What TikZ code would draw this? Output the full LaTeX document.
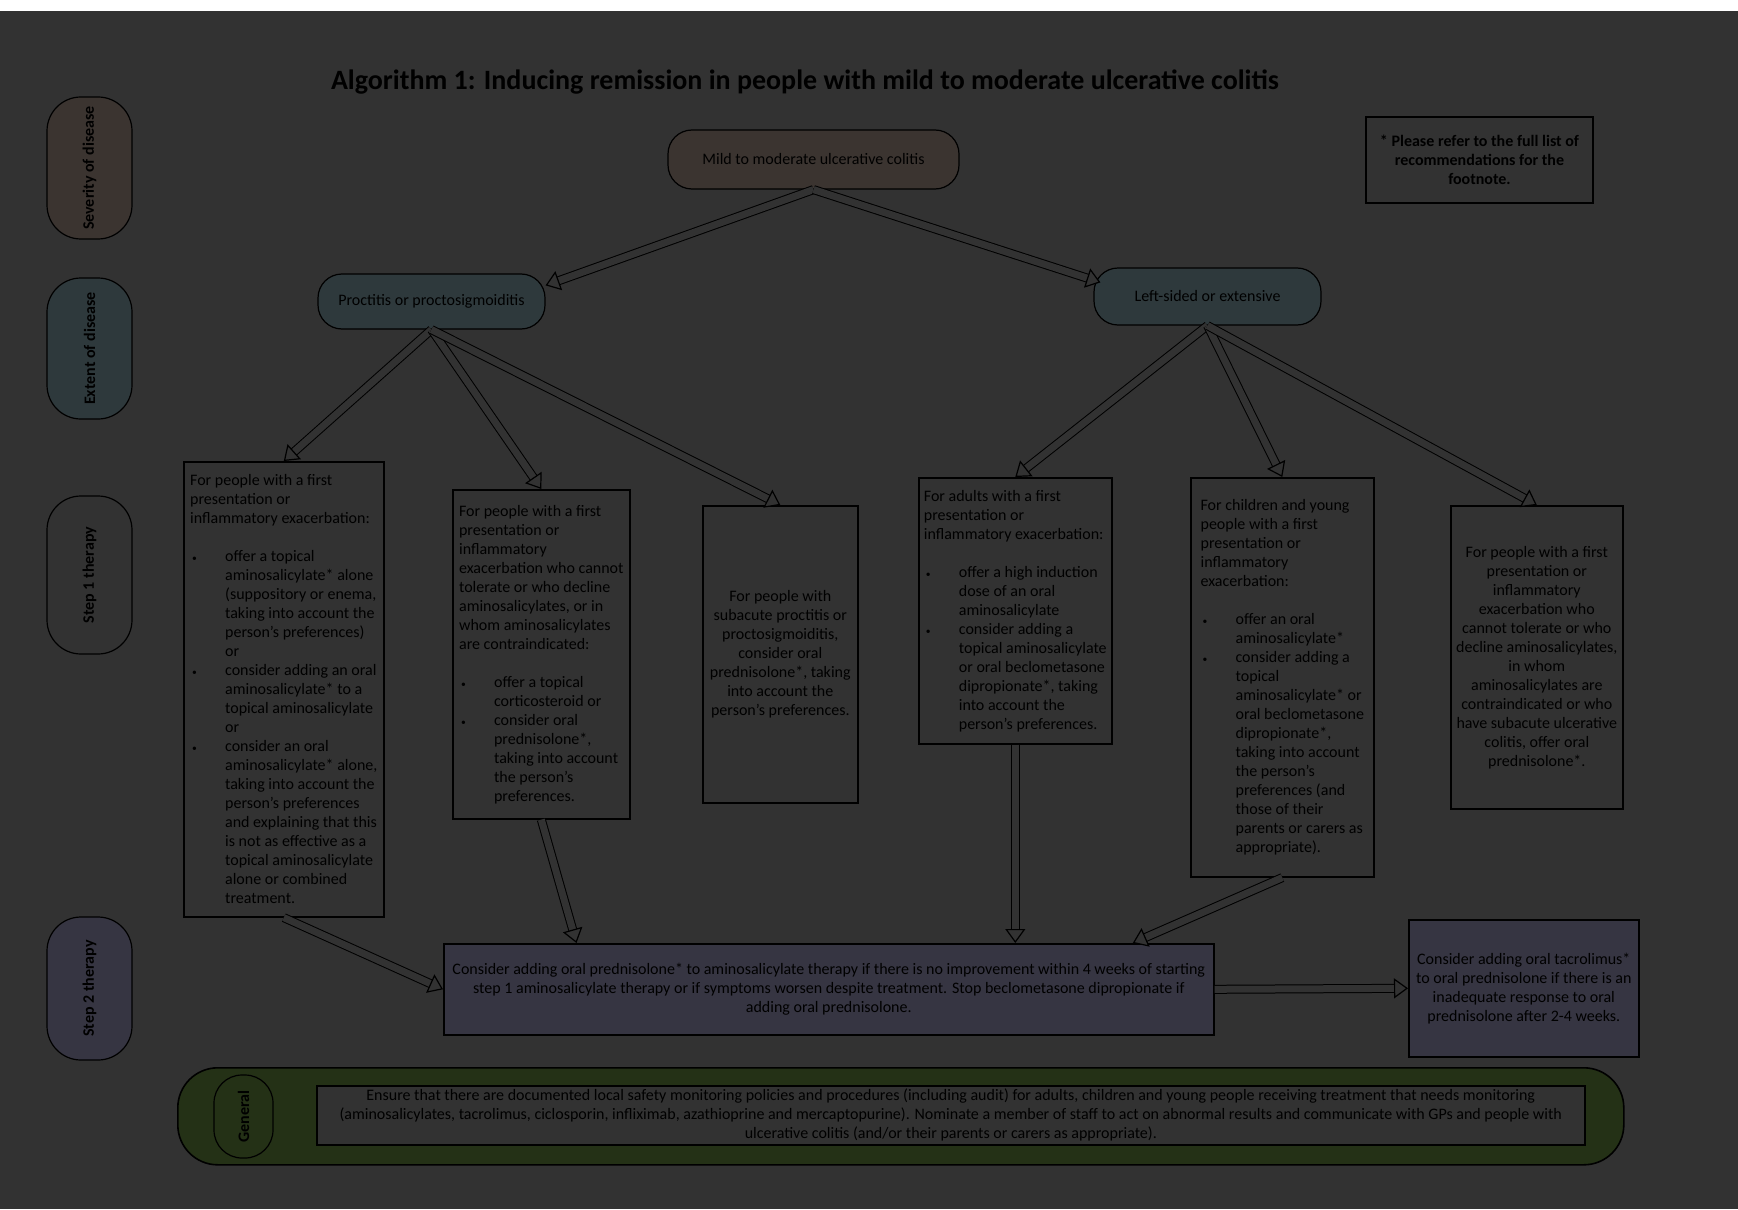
\documentclass[tikz,border=0pt]{standalone}
\usepackage{fontspec}
\setmainfont{Carlito}
\usetikzlibrary{arrows.meta, calc}
\definecolor{my_bg}{HTML}{323232}
\definecolor{my_brown}{HTML}{3B3430}
\definecolor{my_teal}{HTML}{2E393C}
\definecolor{my_purple}{HTML}{363542}
\definecolor{my_green}{HTML}{243116}
\newcommand{\bulmark}{\makebox[17.5pt][l]{\hspace{1pt}\scalebox{0.6}{\textbullet}}}
\newcommand{\hangind}{\hspace*{17.5pt}}

\begin{document}
\begin{tikzpicture}[
    x=0.5pt, y=-0.5pt,
    font=\fontsize{8}{9.5}\selectfont,
    pill/.style={draw, line width=0.6pt, rounded corners=12pt, inner sep=1pt},
    sidelabel/.style={draw, line width=0.6pt, rounded corners=17pt, rotate=90,
        minimum height=42.5pt, inner sep=1pt, font=\bfseries\fontsize{8}{9.5}\selectfont},
    stepbox/.style={draw, line width=0.8pt, anchor=north west, align=left, inner sep=1.5pt},
    midbox/.style={draw, line width=0.8pt, anchor=north west, align=center, inner sep=1.5pt},
    flow/.style={draw=black, line width=0.5pt, double=my_bg, double distance=3.5pt,
        -{Triangle[open, fill=my_bg, line width=0.6pt, length=7pt, width=10pt]}}
]

% ---------------------------------------------------------------
%  Seite, Titel, Fussnote
% ---------------------------------------------------------------
\useasboundingbox (0, 0) rectangle (1738, 1209);
\fill[my_bg] (0, 0) rectangle (1738, 1209);
\fill[white] (0, 0) rectangle (1738, 11);

\node[font=\bfseries\fontsize{14}{16}\selectfont] (title) at (805, 82)
    {Algorithm 1: Inducing remission in people with mild to moderate ulcerative colitis};
\node[draw, line width=0.8pt, align=center, minimum width=113.5pt, minimum height=43pt,
    font=\bfseries\fontsize{8}{9.5}\selectfont] (foot) at (1479.5, 160)
    {* Please refer to the full list of\\ recommendations for the\\ footnote.};

% Zeilenbeschriftungen links
\node[sidelabel, fill=my_brown, minimum width=71pt] (sev) at (89.5, 168) {Severity of disease};
\node[sidelabel, fill=my_teal, minimum width=70.5pt] (ext) at (89.5, 348.5) {Extent of disease};
\node[sidelabel, minimum width=79pt] (st1) at (89.5, 575) {Step 1 therapy};
\node[sidelabel, fill=my_purple, minimum width=71.5pt] (st2) at (89.5, 988.5) {Step 2 therapy};

% Schweregrad und Ausdehnung
\node[pill, fill=my_brown, minimum width=145.5pt, minimum height=29.5pt] (mild) at (813.5, 159.5)
    {Mild to moderate ulcerative colitis};
\node[pill, fill=my_teal, minimum width=113.5pt, minimum height=27.5pt] (procto) at (431.5, 301.5)
    {Proctitis or proctosigmoiditis};
\node[pill, fill=my_teal, minimum width=113.5pt, minimum height=28.5pt] (leftext) at (1207.5, 296.5)
    {Left-sided or extensive};

% ---------------------------------------------------------------
%  Stufe 1
% ---------------------------------------------------------------
\node[stepbox, minimum width=100pt, minimum height=227.5pt] (b1) at (183, 461) {%
For people with a first\\
presentation or\\
inflammatory exacerbation:\\[9.5pt]
\bulmark offer a topical\\
\hangind aminosalicylate* alone\\
\hangind (suppository or enema,\\
\hangind taking into account the\\
\hangind person’s preferences)\\
\hangind or\\
\bulmark consider adding an oral\\
\hangind aminosalicylate* to a\\
\hangind topical aminosalicylate\\
\hangind or\\
\bulmark consider an oral\\
\hangind aminosalicylate* alone,\\
\hangind taking into account the\\
\hangind person’s preferences\\
\hangind and explaining that this\\
\hangind is not as effective as a\\
\hangind topical aminosalicylate\\
\hangind alone or combined\\
\hangind treatment.};

\node[stepbox, minimum width=88.5pt, minimum height=164.5pt] (b2) at (452, 489) {%
For people with a first\\
presentation or\\
inflammatory\\
exacerbation who cannot\\
tolerate or who decline\\
aminosalicylates, or in\\
whom aminosalicylates\\
are contraindicated:\\[9.5pt]
\bulmark offer a topical\\
\hangind corticosteroid or\\
\bulmark consider oral\\
\hangind prednisolone*,\\
\hangind taking into account\\
\hangind the person’s\\
\hangind preferences.};

\node[midbox, minimum width=77.5pt, minimum height=148.5pt] (b3) at (702, 505) {%
For people with\\
subacute proctitis or\\
proctosigmoiditis,\\
consider oral\\
prednisolone*, taking\\
into account the\\
person’s preferences.};

\node[stepbox, minimum width=96.5pt, minimum height=133pt] (b4) at (918, 477) {%
For adults with a first\\
presentation or\\
inflammatory exacerbation:\\[9.5pt]
\bulmark offer a high induction\\
\hangind dose of an oral\\
\hangind aminosalicylate\\
\bulmark consider adding a\\
\hangind topical aminosalicylate\\
\hangind or oral beclometasone\\
\hangind dipropionate*, taking\\
\hangind into account the\\
\hangind person’s preferences.};

\node[stepbox, minimum width=91.5pt, minimum height=199.5pt] (b5) at (1190, 477) {%
For children and young\\
people with a first\\
presentation or\\
inflammatory\\
exacerbation:\\[9.5pt]
\bulmark offer an oral\\
\hangind aminosalicylate*\\
\bulmark consider adding a\\
\hangind topical\\
\hangind aminosalicylate* or\\
\hangind oral beclometasone\\
\hangind dipropionate*,\\
\hangind taking into account\\
\hangind the person’s\\
\hangind preferences (and\\
\hangind those of their\\
\hangind parents or carers as\\
\hangind appropriate).};

\node[midbox, minimum width=86pt, minimum height=151.5pt] (b6) at (1450, 505) {%
For people with a first\\
presentation or\\
inflammatory\\
exacerbation who\\
cannot tolerate or who\\
decline aminosalicylates,\\
in whom\\
aminosalicylates are\\
contraindicated or who\\
have subacute ulcerative\\
colitis, offer oral\\
prednisolone*.};

% ---------------------------------------------------------------
%  Stufe 2
% ---------------------------------------------------------------
\node[midbox, fill=my_purple, minimum width=385pt, minimum height=45.5pt] (s2) at (443, 943) {%
Consider adding oral prednisolone* to aminosalicylate therapy if there is no improvement within 4 weeks of starting\\
step 1 aminosalicylate therapy or if symptoms worsen despite treatment. Stop beclometasone dipropionate if\\
adding oral prednisolone.};
\node[midbox, fill=my_purple, minimum width=115pt, minimum height=68.5pt] (tac) at (1408, 919) {%
Consider adding oral tacrolimus*\\
to oral prednisolone if there is an\\
inadequate response to oral\\
prednisolone after 2-4 weeks.};

% Allgemeines
\node[draw, line width=0.8pt, fill=my_green, rounded corners=20pt, anchor=north west,
    minimum width=723pt, minimum height=48.5pt] (genouter) at (177, 1067) {};
\node[sidelabel, rounded corners=14pt, minimum width=41.5pt, minimum height=29.5pt] (genlab)
    at (243.5, 1116.5) {General};
\node[midbox, fill=my_bg, inner sep=1pt, minimum width=634pt, minimum height=29.5pt] (gentext) at (316, 1085) {%
Ensure that there are documented local safety monitoring policies and procedures (including audit) for adults, children and young people receiving treatment that needs monitoring\\
(aminosalicylates, tacrolimus, ciclosporin, infliximab, azathioprine and mercaptopurine). Nominate a member of staff to act on abnormal results and communicate with GPs and people with\\
ulcerative colitis (and/or their parents or carers as appropriate).};

% ---------------------------------------------------------------
%  Pfeile
% ---------------------------------------------------------------
\draw[flow] (mild.south) -- ([yshift=-6pt]procto.north east);
\draw[flow] (mild.south) -- ([xshift=3.5pt, yshift=-7.5pt]leftext.north west);
\foreach \b in {b1, b2, b3}
    \draw[flow] (procto.south) -- (\b.north);
\foreach \b in {b4, b5, b6}
    \draw[flow] (leftext.south) -- (\b.north);
\draw[flow] (b1.south) -- (s2.west);
\draw[flow] (b2.south) -- ($(s2.north west)!0.173!(s2.north east)$);
\draw[flow] (b4.south) -- (b4.south |- s2.north);
\draw[flow] (b5.south) -- ($(s2.north west)!0.894!(s2.north east)$);
\draw[flow] (s2.east) -- (tac.west);

\end{tikzpicture}
\end{document}
